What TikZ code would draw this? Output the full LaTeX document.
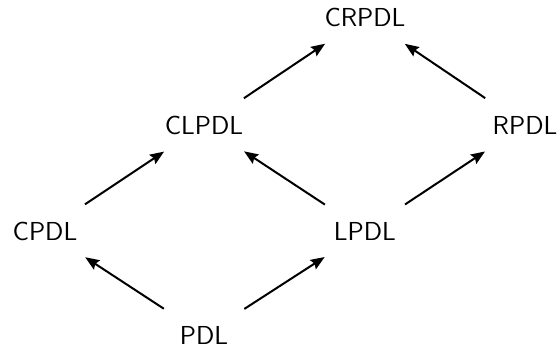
\documentclass[tikz,border=0pt]{standalone}
\usetikzlibrary{arrows.meta}
\tikzset{
  lat/.style={font=\sffamily\fontsize{13}{15}\selectfont, inner sep=1pt},
  link/.style={->, line width=1pt, shorten <=24pt, shorten >=24pt}
}
\begin{document}
\begin{tikzpicture}[>={Stealth[length=7pt,width=5.5pt,inset=1pt]}, x=0.5pt, y=0.5pt]
        \useasboundingbox (0,0) rectangle (559,351);
        \node[lat] (CRPDL) at (365,334) {CRPDL};
        \node[lat] (CLPDL) at (204,226) {CLPDL};
        \node[lat] (RPDL) at (525,226) {RPDL};
        \node[lat] (CPDL) at (45,120) {CPDL};
        \node[lat] (LPDL) at (365,120) {LPDL};
        \node[lat] (PDL) at (204,16) {PDL};
        \draw [link](PDL.center)--(CPDL.center);
        \draw [link](PDL.center)--(LPDL.center);
        \draw [link](CPDL.center)--(CLPDL.center);
        \draw [link](LPDL.center)--(CLPDL.center);
        \draw [link](LPDL.center)--(RPDL.center);
        \draw [link](CLPDL.center)--(CRPDL.center);
        \draw [link](RPDL.center)--(CRPDL.center);
    \end{tikzpicture}
\end{document}
